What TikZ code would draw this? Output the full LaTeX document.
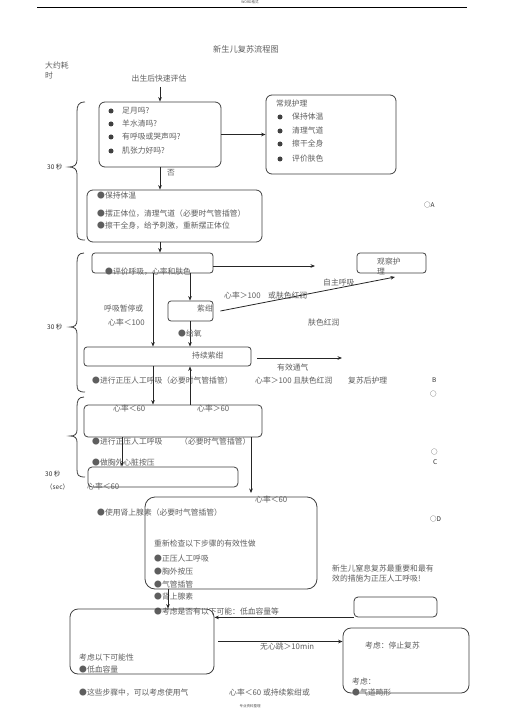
\documentclass[tikz,border=0pt]{standalone}
\usepackage{fontspec}
\setmainfont{Noto Sans CJK SC}
\usetikzlibrary{arrows.meta}
\definecolor{tgray}{HTML}{5E5E5E}
\definecolor{lc}{HTML}{404040}
\begin{document}
\begin{tikzpicture}[x=1pt,y=-1pt,
  txt/.style={anchor=west,inner sep=0pt,font=\fontsize{7.8}{9}\selectfont,text=tgray},
  ctxt/.style={anchor=center,inner sep=0pt,font=\fontsize{7.8}{9}\selectfont,text=tgray},
  small/.style={anchor=west,inner sep=0pt,font=\fontsize{6.5}{8}\selectfont,text=black!80},
  box/.style={draw=lc,line width=0.8pt,rounded corners=6pt,inner sep=0pt},
  dotb/.style={circle,fill=lc,inner sep=0pt,minimum size=5pt},
  arr/.style={-{Stealth[length=4.5pt,width=3.6pt]},draw=black!85,line width=0.8pt},
  ln/.style={draw=black!85,line width=0.8pt},
  brace/.style={draw=lc,line width=0.8pt}]
\useasboundingbox (0,0) rectangle (505,714);
\fill[white] (0,0) rectangle (505,714);
% header / footer
\draw[black,line width=0.8pt] (37,7) -- (467,7);
\node[inner sep=0pt,font=\fontsize{3.5}{4}\selectfont,text=black!70] (hdr) at (250,2.5) {WORD格式};
\node[inner sep=0pt,font=\fontsize{3.5}{4}\selectfont,text=black!70] (ftr) at (250,706) {专业资料整理};
% column coordinates
\coordinate (cA) at (160,0);
\coordinate (cB) at (153,0);
\coordinate (cC) at (190,0);
\coordinate (cD) at (122,0);
\coordinate (cE) at (251,0);
\coordinate (cF) at (168,0);
% title
\node[ctxt,font=\fontsize{8.2}{9}\selectfont] (title) at (246,49) {新生儿复苏流程图};
\node[txt] (dy1) at (45,66) {大约耗};
\node[txt] (dy2) at (45,76) {时};
\node[ctxt] (birth) at (159,79) {出生后快速评估};
% box 1
\node[box,minimum width=122pt,minimum height=65pt] (b1) at (160,134.5) {};
\node[dotb] (d11) at (111,111) {};
\node[dotb] (d12) at (111,124) {};
\node[dotb] (d13) at (111,137) {};
\node[dotb] (d14) at (111,151) {};
\node[txt] (t11) at (122,111) {足月吗?};
\node[txt] (t12) at (122,124) {羊水清吗?};
\node[txt] (t13) at (122,137) {有呼吸或哭声吗?};
\node[txt] (t14) at (122,151) {肌张力好吗?};
\draw[arr] (birth.south -| cA) ++(0,4) -- (b1.north -| cA);
% box 2
\node[box,minimum width=130pt,minimum height=79pt] (b2) at (331,134.5) {};
\node[txt] (t20) at (276,104) {常规护理};
\node[dotb] (d21) at (280,117) {};
\node[dotb] (d22) at (280,131) {};
\node[dotb] (d23) at (280,144) {};
\node[dotb] (d24) at (280,159) {};
\node[txt] (t21) at (292,117) {保持体温};
\node[txt] (t22) at (292,131) {清理气道};
\node[txt] (t23) at (292,144) {擦干全身};
\node[txt] (t24) at (292,159) {评价肤色};
\draw[arr] (b1.east) -- (b2.west);
% brace 1
\draw[brace] (85,102) .. controls (78,102) and (77,106) .. (77,112) -- (77,160) .. controls (77,165) and (74,167) .. (69,167) .. controls (74,167) and (77,169) .. (77,174) -- (77,232) .. controls (77,238) and (78,240) .. (85,240);
\node[small] (s1) at (47,167) {30 秒};
\node[txt] (no) at (167,173) {否};
% box 3
\node[box,minimum width=175pt,minimum height=52pt] (b3) at (174.5,216) {};
\draw[arr] (b1.south -| cA) -- (b3.north -| cA);
\node[txt] (t31) at (97,196) {●保持体温};
\node[txt] (t32) at (97,214) {●摆正体位，清理气道（必要时气管插管）};
\node[txt] (t33) at (97,226) {●擦干全身，给予刺激，重新摆正体位};
\node[small] (mA) at (424,205) {○A};
% box 4
\node[box,rounded corners=3pt,minimum width=121pt,minimum height=20pt] (b4) at (152.5,263) {};
\draw[arr] (b3.south -| cA) -- (b4.north -| cA);
\node[txt] (t41) at (105,272) {●评价呼吸，心率和肤色};
\coordinate (e1) at (315,266);
\draw[arr] (b4.east |- e1) -- (e1);
\node[box,rounded corners=3pt,minimum width=69pt,minimum height=20pt] (bobs) at (391.5,263) {};
\node[txt] (tobs1) at (377,262) {观察护};
\node[txt] (tobs2) at (377,272) {理};
% cyanosis box
\node[box,rounded corners=3pt,minimum width=45pt,minimum height=20pt] (bzg) at (190.5,311) {};
\node[txt] (tzg) at (197,309) {紫绀};
\draw[arr] (b4.south -| cC) -- (bzg.north -| cC);
\coordinate (e2) at (395,277);
\draw[arr] ([xshift=7pt]bzg.east) -- (e2);
\node[txt] (l1) at (323,283) {自主呼吸};
\node[txt] (l2) at (224,296) {心率＞100};
\node[txt] (l3) at (268,296) {或肤色红润};
\node[txt] (l4) at (104,309) {呼吸暂停或};
\node[txt] (l5) at (108,323) {心率＜100};
\node[txt] (l6) at (308,323) {肤色红润};
% brace 2
\draw[brace] (84,253) .. controls (78,253) and (77,257) .. (77,263) -- (77,320) .. controls (77,325) and (75,327) .. (70,327) .. controls (75,327) and (77,329) .. (77,334) -- (77,384) .. controls (77,390) and (78,392) .. (85,392);
\node[small] (s2) at (47,327) {30 秒};
% persistent cyanosis
\node[box,rounded corners=3pt,minimum width=167pt,minimum height=19pt] (bcz) at (167.5,356.5) {};
\node[txt] (tcz) at (192,356) {持续紫绀};
\draw[arr] (b4.south -| cB) -- (bcz.north -| cB);
\draw[arr] (bzg.south -| cC) -- (bcz.north -| cC);
\node[txt] (ox) at (178,334) {●给氧};
\coordinate (e3) at (342,358);
\draw[arr] ([xshift=6pt]bcz.east |- e3) -- (e3);
\node[txt] (l7) at (277,368) {有效通气};
\node[txt] (l8) at (92,381) {●进行正压人工呼吸（必要时气管插管）};
\node[txt] (l9) at (255,381) {心率＞100 且肤色红润};
\node[txt] (l10) at (348,381) {复苏后护理};
\node[small] (mB) at (432,380) {B};
\node[small] (mB2) at (430,394) {○};
% box 5
\node[box,rounded corners=4pt,minimum width=178pt,minimum height=32pt] (b5) at (173,421) {};
\draw[arr] (bcz.south -| cB) -- (b5.north -| cB);
\draw[arr] (b5.north -| cC) -- (bcz.south -| cC);
\node[txt] (l11) at (113,409) {心率＜60};
\node[txt] (l12) at (197,409) {心率＞60};
\node[txt] (l13) at (92,442) {●进行正压人工呼吸};
\node[txt] (l14) at (180,442) {（必要时气管插管）};
\node[txt] (l15) at (92,463) {●做胸外心脏按压};
% box 6
\node[box,rounded corners=4pt,minimum width=150pt,minimum height=20pt] (b6) at (163,477) {};
\draw[arr] (b5.south -| cD) -- (b6.north -| cD);
\coordinate (e4) at (251,493);
\draw[arr] (b5.south -| e4) -- (e4);
\node[small] (mC1) at (431,452) {○};
\node[small] (mC2) at (433,462) {C};
% brace 3
\draw[brace] (84,397) .. controls (78,397) and (77,401) .. (77,407) -- (77,430) .. controls (77,434) and (75,436) .. (70,436) .. controls (75,436) and (77,438) .. (77,442) -- (77,469) .. controls (77,475) and (78,477) .. (85,477);
\node[small] (s3) at (45,474) {30 秒};
\node[small] (s4) at (46,487) {（sec）};
\node[txt] (l16) at (87,487) {心率＜60};
% box 7
\node[box,rounded corners=10pt,minimum width=172pt,minimum height=92pt] (b7) at (231,543) {};
\node[txt] (l17) at (255,500) {心率＜60};
\node[txt] (l18) at (97,513) {●使用肾上腺素（必要时气管插管）};
\node[small] (mD) at (430,519) {○D};
\node[txt] (l19) at (154,544) {重新检查以下步骤的有效性做};
\node[txt] (l20) at (154,559) {●正压人工呼吸};
\node[txt] (l21) at (154,572) {●胸外按压};
\node[txt] (l22) at (154,585) {●气管插管};
\node[txt] (l23) at (154,597) {●肾上腺素};
\node[txt] (l24) at (154,612) {●考虑是否有以下可能：低血容量等};
\node[txt] (l25) at (332,568) {新生儿窒息复苏最重要和最有};
\node[txt] (l26) at (332,579) {效的措施为正压人工呼吸!};
% empty box
\node[box,rounded corners=4pt,minimum width=83pt,minimum height=20pt] (be) at (395.5,607) {};
% box 8
\node[box,rounded corners=8pt,minimum width=144pt,minimum height=65pt] (b8) at (142,641.5) {};
\draw[arr] (b7.south -| cF) -- (b8.north -| cF);
\draw[arr] (be.south west) -- (be.south west -| b8.east);
\node[txt] (l27) at (79,658) {考虑以下可能性};
\node[txt] (l28) at (79,670) {●低血容量};
% box 9
\node[box,rounded corners=8pt,minimum width=126pt,minimum height=65pt] (b9) at (406,660.5) {};
\draw[arr] ([xshift=4pt]b8.east) -- (b9.west |- b8.east);
\node[txt] (l29) at (260,647) {无心跳＞10min};
\node[txt] (l30) at (365,646) {考虑：停止复苏};
\node[txt] (l31) at (352,682) {考虑：};
\node[txt] (l32) at (352,693) {●气道畸形};
\node[txt] (l33) at (79,693) {●这些步骤中，可以考虑使用气};
\node[txt] (l34) at (229,693) {心率＜60 或持续紫绀或};
\end{tikzpicture}
\end{document}
